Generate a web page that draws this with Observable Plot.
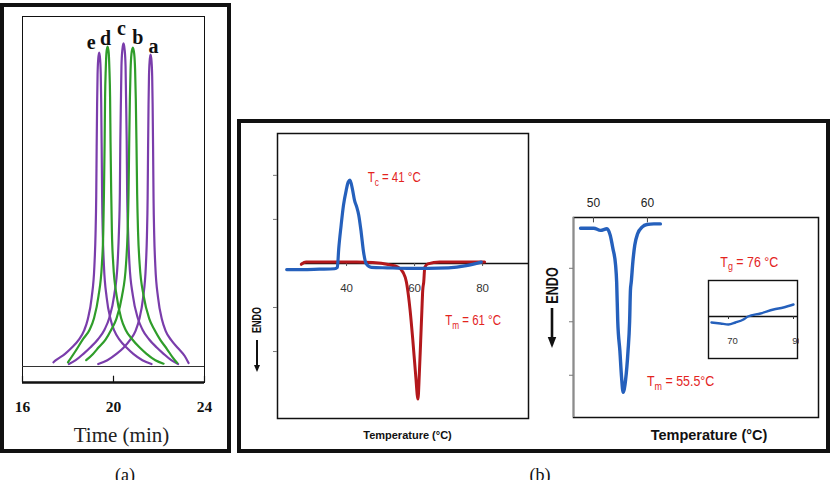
<!DOCTYPE html>
<html>
<head>
<meta charset="utf-8">
<script src="https://cdn.jsdelivr.net/npm/d3@7"></script>
<script src="https://cdn.jsdelivr.net/npm/@observablehq/plot@0.6"></script>
<style>
  html, body { margin: 0; padding: 0; background: #fff; }
  #fig { position: relative; width: 838px; height: 480px; overflow: hidden; background: #fff; }
  .box { position: absolute; box-sizing: border-box; border: 4px solid #111; }
  .cap { position: absolute; font-family: "Liberation Serif", "Times New Roman", serif; font-size: 18px; color: #111; transform: translateX(-50%); line-height: 1; }
</style>
</head>
<body>
<div id="fig"></div>
<script>
// ---------- (a) GPC traces: [elution time (min), detector response] ----------
const timeTicks = [16, 20, 24];
const peakNames = ["a", "b", "c", "d", "e"];
const peakA = [[19.33,0.7],[19.73,1.8],[20.13,3.6],[20.43,5.3],[20.73,7.6],[20.97,10.2],[21.13,13.4],[21.30,19.6],[21.42,28.5],[21.47,37.4],[21.50,48.1],[21.52,62.4],[21.54,74.8],[21.56,82.9],[21.59,87.3],[21.63,89.1],[21.67,87.3],[21.70,82.9],[21.72,74.8],[21.74,62.4],[21.76,48.1],[21.79,37.4],[21.84,28.5],[21.96,19.6],[22.13,13.4],[22.29,10.2],[22.53,7.6],[22.83,5.3],[23.13,3.0],[23.3,1.0]];
const peakB = [[18.8,1.8],[19.1,3.6],[19.35,5.5],[19.65,7.7],[19.90,10.5],[20.13,13.7],[20.37,20.0],[20.55,29.2],[20.62,38.3],[20.66,49.2],[20.69,63.8],[20.72,76.5],[20.75,84.7],[20.79,89.3],[20.85,91.1],[20.91,89.3],[20.95,84.7],[20.98,76.5],[21.01,63.8],[21.04,49.2],[21.08,38.3],[21.15,29.2],[21.33,20.0],[21.57,13.7],[21.80,10.5],[22.05,7.7],[22.35,5.0],[22.6,2.6],[22.8,1.0]];
const peakC = [[18.04,0.7],[18.34,1.8],[18.69,3.7],[18.99,5.5],[19.32,7.8],[19.61,10.6],[19.81,13.8],[20.03,20.3],[20.18,29.5],[20.24,38.8],[20.28,49.8],[20.30,64.6],[20.33,77.5],[20.35,85.8],[20.39,90.5],[20.44,92.3],[20.49,90.5],[20.53,85.8],[20.55,77.5],[20.58,64.6],[20.60,49.8],[20.64,38.8],[20.70,29.5],[20.85,20.3],[21.07,13.8],[21.27,10.6],[21.56,7.8],[21.89,5.5],[22.19,3.7],[22.54,1.8],[22.84,0.7]];
const peakD = [[18.0,1.2],[18.34,4.5],[18.66,7.8],[18.95,10.5],[19.14,13.7],[19.34,20.1],[19.49,29.2],[19.55,38.4],[19.58,49.4],[19.61,64.0],[19.63,76.8],[19.66,85.0],[19.69,89.6],[19.74,91.4],[19.79,89.6],[19.82,85.0],[19.85,76.8],[19.87,64.0],[19.90,49.4],[19.93,38.4],[19.99,29.2],[20.14,20.1],[20.34,13.7],[20.53,10.5],[20.82,7.8],[21.14,5.5],[21.44,3.7],[21.84,1.8],[22.2,0.8]];
const peakE = [[17.36,1.2],[17.47,1.8],[17.87,3.6],[18.17,5.4],[18.47,7.6],[18.71,10.3],[18.87,13.5],[19.04,19.7],[19.16,28.7],[19.21,37.7],[19.24,48.4],[19.26,62.8],[19.28,75.3],[19.30,83.4],[19.33,87.9],[19.37,89.7],[19.41,87.9],[19.44,83.4],[19.46,75.3],[19.48,62.8],[19.50,48.4],[19.53,37.7],[19.58,28.7],[19.70,19.7],[19.87,13.5],[20.03,10.3],[20.27,7.6],[20.57,5.4],[20.87,3.6],[21.27,1.8],[21.67,0.7]];

// ---------- (b) DSC thermograms: [temperature (°C), heat flow] ----------
const tempTicksLeft = [40, 60, 80];
const heatTicksLeft = [-2, -1, 1, 2];
const dscCooling = [[22.4,-0.14],[27,-0.14],[32,-0.13],[36.5,-0.12],[37.3,-0.09],[37.7,0.33],[38.4,0.86],[39.1,1.32],[39.9,1.66],[40.5,1.85],[41,1.89],[41.7,1.7],[42.35,1.43],[43,1.28],[43.6,1.09],[44.3,0.71],[45,0.26],[45.8,-0.01],[47.3,-0.09],[52,-0.1],[58,-0.11],[64,-0.11],[70,-0.1],[75.2,-0.05],[79.6,0.03]];
const dscHeating = [[26.7,-0.02],[28.1,0.03],[33,0.03],[38,0.03],[43,0.03],[47.7,0.02],[52.6,-0.03],[55.1,-0.08],[56.6,-0.2],[57.6,-0.42],[58.2,-0.73],[58.7,-1.07],[59.5,-1.75],[60.3,-2.51],[61,-3.08],[61.4,-2.51],[61.8,-1.75],[62.15,-1.07],[62.4,-0.61],[62.7,-0.42],[63,-0.09],[63.9,-0.01],[67.4,0.03],[74,0.03],[80.6,0.03]];
const tempTicksRight = [50, 60];
const heatTicksRight = [0, -1, -2];
const dscRight = [[47.6,0.75],[50.06,0.75],[51.3,0.71],[52.5,0.74],[53.1,0.62],[53.6,0.37],[54.1,0.06],[54.3,-0.26],[54.5,-0.99],[54.9,-1.55],[55.2,-2.03],[55.5,-2.32],[55.95,-2.09],[56.4,-1.55],[56.7,-0.99],[56.85,-0.41],[57.0,-0.26],[57.3,0.12],[57.65,0.43],[58.2,0.65],[59.0,0.77],[59.9,0.82],[61.2,0.83],[62.4,0.83]];
const insetTicks = [70, 90];
const dscInset = [[64.77,-0.6],[67.54,-0.7],[70,-0.8],[72.15,-0.6],[74.6,-0.3],[76,0],[79.85,0.3],[83.85,0.7],[86.9,0.9],[90,1.2]];
const tcValue = 41, tmLeftValue = 61, tmRightValue = 55.5, tgValue = 76;

// ---------- styling ----------
const serif = "'Liberation Serif', 'Times New Roman', serif";
const sans = "'Liberation Sans', Arial, sans-serif";
const purple = "#7A3DAB", green = "#2F9D2A";
const dscBlue = "#2560BC", dscRed = "#B3181C", labelRed = "#E3241E";

const fig = document.getElementById("fig");
function place(node, left, top) {
  const d = document.createElement("div");
  d.style.cssText = `position:absolute;left:${left}px;top:${top}px;`;
  d.append(node);
  fig.append(d);
}
// turn "T_c ..." into T with a subscript c
function subscripts(svg, shift) {
  const ns = "http://www.w3.org/2000/svg";
  svg.querySelectorAll("text").forEach(t => {
    const m = /^(.*?)_(\w)(.*)$/.exec(t.textContent);
    if (!m) return;
    t.textContent = "";
    const a = document.createElementNS(ns, "tspan"); a.textContent = m[1];
    const b = document.createElementNS(ns, "tspan"); b.textContent = m[2];
    b.setAttribute("font-size", "0.72em"); b.setAttribute("dy", shift + "px");
    const c = document.createElementNS(ns, "tspan"); c.textContent = m[3];
    c.setAttribute("dy", (-shift) + "px");
    t.append(a, b, c);
  });
}
// narrow the glyphs of selected texts (condensed lettering)
function condense(svg, test, k) {
  svg.querySelectorAll("text").forEach(t => {
    if (!test(t.textContent)) return;
    t.setAttribute("transform", ((t.getAttribute("transform") || "") + ` scale(${k},1)`).trim());
  });
}
const isTransition = s => /^T[cmg]/.test(s) && s.includes("°C");
const isEndo = s => s === "ENDO";
const P = d => d[0], V = d => d[1];

// ---------- (a) ----------
const yBottomA = -4.57;
const peaks = [
  {name: "a", data: peakA, color: purple, nudge: [3, -8]},
  {name: "c", data: peakC, color: purple, nudge: [-2, -15]},
  {name: "e", data: peakE, color: purple, nudge: [-8, -10]},
  {name: "b", data: peakB, color: green, nudge: [5, -10]},
  {name: "d", data: peakD, color: green, nudge: [-2, -8]}
];
const apex = d => d3.greatest(d, V);
const plotA = Plot.plot({
  width: 231, height: 450,
  marginTop: 16, marginLeft: 22, marginRight: 27, marginBottom: 68,
  x: {domain: [16, 24], axis: null},
  y: {domain: [yBottomA, 100], axis: null},
  style: {background: "transparent"},
  marks: [
    Plot.frame({stroke: "#111", strokeWidth: 1}),
    Plot.ruleY([0], {stroke: "#333", strokeWidth: 1}),
    Plot.ruleY([yBottomA], {stroke: "#111", strokeWidth: 2.6}),
    Plot.ruleX(timeTicks, {y1: yBottomA, y2: yBottomA + 1.8, stroke: "#111", strokeWidth: 1.2}),
    Plot.text(timeTicks, {x: d => d, text: d => String(d), frameAnchor: "bottom", lineAnchor: "middle", dy: 25,
      fontFamily: serif, fontWeight: "bold", fontSize: 15.5, fill: "#111"}),
    Plot.text(["Time (min)"], {text: d => d, frameAnchor: "bottom", lineAnchor: "middle", textAnchor: "middle",
      dx: 8, dy: 53, fontFamily: serif, fontSize: 21, fill: "#222"}),
    ...peaks.map(p => Plot.line(p.data, {x: P, y: V, stroke: p.color, strokeWidth: 2.2, curve: "monotone-x"})),
    ...peaks.map(p => Plot.text([apex(p.data)], {x: P, y: V, text: () => p.name, dx: p.nudge[0], dy: p.nudge[1],
      lineAnchor: "middle", fontFamily: serif, fontWeight: "bold", fontSize: 20, fill: "#111"}))
  ]
});
place(plotA, 0, 0);

// ---------- (b) left: cooling / heating ----------
const xDomL = [19.7, 93.5], yDomL = [-3.52, 2.95];
const plotB1 = Plot.plot({
  width: 295, height: 325,
  marginTop: 10, marginLeft: 36, marginRight: 8, marginBottom: 30,
  x: {domain: xDomL, axis: null},
  y: {domain: yDomL, axis: null},
  style: {background: "transparent"},
  marks: [
    Plot.frame({stroke: "#111", strokeWidth: 1.5}),
    Plot.axisY(heatTicksLeft, {anchor: "left", tickSize: 4, tickFormat: () => "", stroke: "#777", label: null}),
    Plot.ruleY([0], {x1: dscHeating[0][0], x2: xDomL[1], stroke: "#111", strokeWidth: 1.4}),
    Plot.ruleX(tempTicksLeft, {y1: 0, y2: -0.07, stroke: "#555"}),
    Plot.text(tempTicksLeft, {x: d => d, y: 0, dy: 25, text: d => String(d), fontFamily: sans, fontSize: 11.5, fill: "#333"}),
    Plot.line(dscHeating, {x: P, y: V, stroke: dscRed, strokeWidth: 3, curve: "monotone-x"}),
    Plot.line(dscCooling, {x: P, y: V, stroke: dscBlue, strokeWidth: 3.2, curve: "monotone-x"}),
    Plot.text([`T_c = ${tcValue} °C`, `T_m = ${tmLeftValue} °C`], {
      x: [46.2, 69.0], y: [1.94, -1.30], text: d => d, textAnchor: "start",
      fontFamily: sans, fontSize: 14, fill: labelRed}),
    Plot.text(["ENDO"], {text: d => d, frameAnchor: "left", rotate: -90, textAnchor: "middle", lineAnchor: "middle",
      dx: -20, dy: 44, fontFamily: sans, fontWeight: "bold", fontSize: 12, fill: "#111"}),
    Plot.text(["Temperature (°C)"], {text: d => d, frameAnchor: "bottom", textAnchor: "middle", lineAnchor: "middle",
      dx: 4.5, dy: 16.5, fontFamily: sans, fontWeight: "bold", fontSize: 11, fill: "#111"})
  ]
});
subscripts(plotB1, 3.5);
condense(plotB1, isTransition, 0.82);
condense(plotB1, isEndo, 0.75);
place(plotB1, 241, 123);

// ---------- (b) right: melting ----------
const xDomR = [46.3, 91.7], yDomR = [-2.79, 0.95];
const plotB2 = Plot.plot({
  width: 285, height: 268,
  marginTop: 37, marginLeft: 32, marginRight: 8, marginBottom: 31,
  x: {domain: xDomR, axis: null},
  y: {domain: yDomR, axis: null},
  style: {background: "transparent"},
  marks: [
    Plot.frame({stroke: "#111", strokeWidth: 1.5}),
    Plot.ruleX([xDomR[0]], {stroke: "#8c8c8c", strokeWidth: 1.6}),
    Plot.axisY(heatTicksRight, {anchor: "left", tickSize: 4, tickFormat: () => "", stroke: "#777", label: null}),
    Plot.ruleX(tempTicksRight, {y1: yDomR[1], y2: yDomR[1] - 0.1, stroke: "#444"}),
    Plot.text(tempTicksRight, {x: d => d, text: d => String(d), frameAnchor: "top", lineAnchor: "middle", dy: -14.5,
      fontFamily: sans, fontSize: 12, fill: "#222"}),
    Plot.line(dscRight, {x: P, y: V, stroke: dscBlue, strokeWidth: 3.4, curve: "monotone-x"}),
    Plot.text([`T_g = ${tgValue} °C`, `T_m = ${tmRightValue}°C`], {
      x: [73.5, 59.9], y: [0.12, -2.11], text: d => d, textAnchor: "start",
      fontFamily: sans, fontSize: 15, fill: labelRed}),
    Plot.text(["ENDO"], {text: d => d, frameAnchor: "left", rotate: -90, textAnchor: "middle", lineAnchor: "middle",
      dx: -21, dy: -32, fontFamily: sans, fontWeight: "bold", fontSize: 16, fill: "#111"}),
    Plot.text(["Temperature (°C)"], {text: d => d, frameAnchor: "bottom", textAnchor: "middle", lineAnchor: "middle",
      dx: 13, dy: 17.4, fontFamily: sans, fontWeight: "bold", fontSize: 14.5, fill: "#111"})
  ]
});
subscripts(plotB2, 3.8);
condense(plotB2, isTransition, 0.83);
condense(plotB2, isEndo, 0.79);
place(plotB2, 541, 180);

// ---------- (b) inset: glass transition ----------
const xDomI = [63.85, 91.23], yDomI = [-4.2, 3.6];
const plotInset = Plot.plot({
  width: 92, height: 81,
  marginTop: 1, marginLeft: 1, marginRight: 2, marginBottom: 2,
  x: {domain: xDomI, axis: null},
  y: {domain: yDomI, axis: null},
  style: {background: "#fff", overflow: "hidden"},
  marks: [
    Plot.frame({stroke: "#111", strokeWidth: 1.4}),
    Plot.ruleY([0], {stroke: "#111", strokeWidth: 1.6}),
    Plot.ruleX(insetTicks, {y1: 0, y2: -0.3, stroke: "#333"}),
    Plot.text(insetTicks, {x: d => d, y: 0, dx: 4, dy: 24, text: d => String(d), fontFamily: sans, fontSize: 9.5, fill: "#333"}),
    Plot.line(dscInset, {x: P, y: V, stroke: dscBlue, strokeWidth: 2.4, curve: "monotone-x"})
  ]
});
place(plotInset, 707, 279);

// ---------- ENDO arrows ----------
const arrows = d3.create("svg").attr("width", 838).attr("height", 480)
  .style("position", "absolute").style("left", 0).style("top", 0).style("pointer-events", "none");
[[257, 340, 372, 2, 6, 7], [552, 308, 348, 2.6, 8.5, 11]].forEach(([x, y1, y2, w, hw, hl]) => {
  arrows.append("line").attr("x1", x).attr("x2", x).attr("y1", y1).attr("y2", y2 - hl + 1)
    .attr("stroke", "#111").attr("stroke-width", w);
  arrows.append("path").attr("d", `M${x - hw / 2},${y2 - hl}L${x + hw / 2},${y2 - hl}L${x},${y2}Z`).attr("fill", "#111");
});
fig.append(arrows.node());

// ---------- panel borders and captions ----------
function box(left, top, w, h) {
  const d = document.createElement("div");
  d.className = "box";
  d.style.cssText = `left:${left}px;top:${top}px;width:${w}px;height:${h}px;`;
  fig.append(d);
}
box(0, 3, 231, 450);
box(237, 119, 593, 334);
function caption(text, x, top) {
  const s = document.createElement("div");
  s.className = "cap";
  s.style.left = x + "px"; s.style.top = top + "px";
  s.textContent = text;
  fig.append(s);
}
caption("(a)", 125, 466);
caption("(b)", 540, 466);
</script>
</body>
</html>
